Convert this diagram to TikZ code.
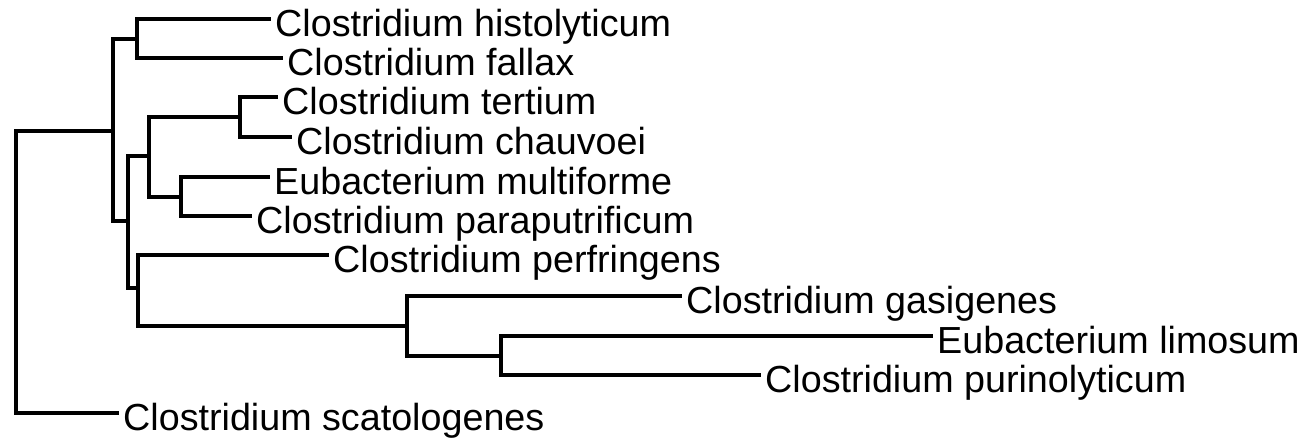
\documentclass[tikz,border=0pt]{standalone}
\usepackage{fontspec}
\setmainfont{Liberation Sans}
\begin{document}
\begin{tikzpicture}[x=1pt,y=-1pt,
  branch/.style={line width=3.6pt,line join=miter,line cap=rect,black},
  taxon/.style={anchor=base west,inner sep=0pt,xshift=6pt,yshift=-17.5pt,
    font=\fontsize{37.7}{40}\selectfont}]
\useasboundingbox (0,0) rectangle (1314,438);
% internal nodes
\coordinate (R) at (16,131);
\coordinate (A) at (113,131);
\coordinate (B) at (137,39);
\coordinate (C) at (128,221);
\coordinate (D) at (149,156);
\coordinate (E) at (240,117);
\coordinate (F) at (181,197);
\coordinate (G) at (138,288);
\coordinate (H) at (407,326);
\coordinate (I) at (501,356);
% tips
\coordinate (t1) at (269,19);
\coordinate (t2) at (281,58);
\coordinate (t3) at (276,97);
\coordinate (t4) at (290,137);
\coordinate (t5) at (268,177);
\coordinate (t6) at (250,216);
\coordinate (t7) at (327,255);
\coordinate (t8) at (680,296);
\coordinate (t9) at (931,336);
\coordinate (t10) at (759,375);
\coordinate (t11) at (117,413);
% labels
\node[taxon] (l1) at (t1) {Clostridium histolyticum};
\node[taxon] (l2) at (t2) {Clostridium fallax};
\node[taxon] (l3) at (t3) {Clostridium tertium};
\node[taxon] (l4) at (t4) {Clostridium chauvoei};
\node[taxon] (l5) at (t5) {Eubacterium multiforme};
\node[taxon] (l6) at (t6) {Clostridium paraputrificum};
\node[taxon] (l7) at (t7) {Clostridium perfringens};
\node[taxon] (l8) at (t8) {Clostridium gasigenes};
\node[taxon] (l9) at (t9) {Eubacterium limosum};
\node[taxon] (l10) at (t10) {Clostridium purinolyticum};
\node[taxon] (l11) at (t11) {Clostridium scatologenes};
% branches
\draw[branch] (R) |- (A);
\draw[branch] (R) |- (t11);
\draw[branch] (A) |- (B);
\draw[branch] (A) |- (C);
\draw[branch] (B) |- (t1);
\draw[branch] (B) |- (t2);
\draw[branch] (C) |- (D);
\draw[branch] (C) |- (G);
\draw[branch] (D) |- (E);
\draw[branch] (D) |- (F);
\draw[branch] (E) |- (t3);
\draw[branch] (E) |- (t4);
\draw[branch] (F) |- (t5);
\draw[branch] (F) |- (t6);
\draw[branch] (G) |- (t7);
\draw[branch] (G) |- (H);
\draw[branch] (H) |- (t8);
\draw[branch] (H) |- (I);
\draw[branch] (I) |- (t9);
\draw[branch] (I) |- (t10);
\end{tikzpicture}
\end{document}
